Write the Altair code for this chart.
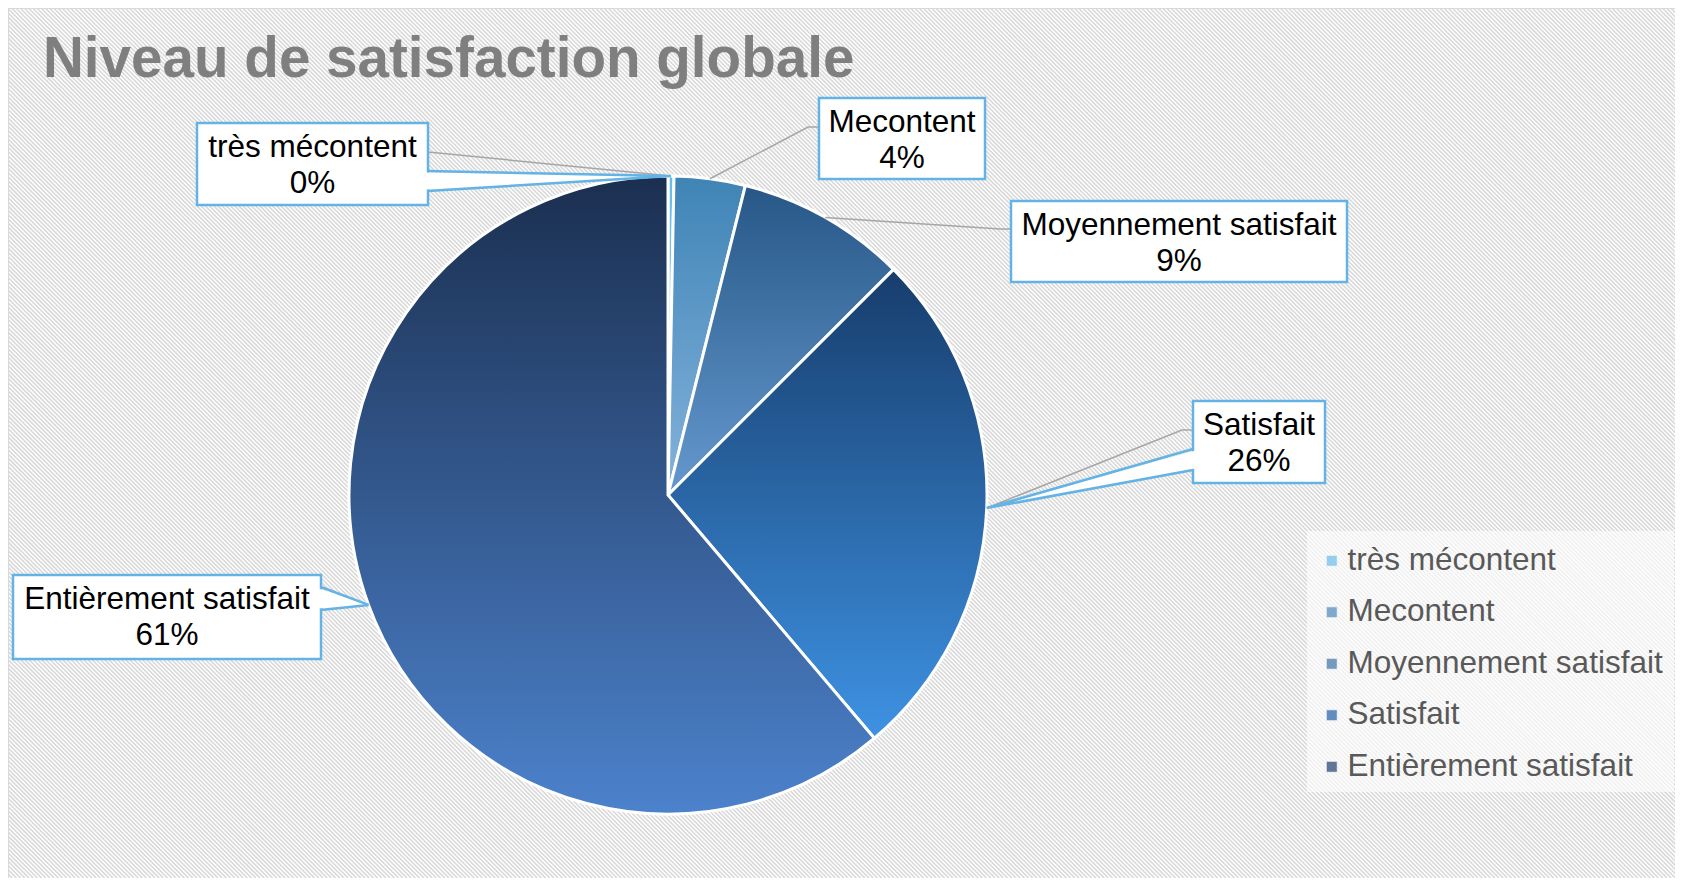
import math
import altair as alt
import pandas as pd

# ---------------- data ----------------
categories = ["très mécontent", "Mecontent", "Moyennement satisfait", "Satisfait", "Entièrement satisfait"]
values = [0.3, 3.6, 8.6, 26.3, 61.2]
title_text = "Niveau de satisfaction globale"

# ---------------- styles ----------------
slice_gradients = [
    ("#66bdea", "#93d2f3"),
    ("#3f84b6", "#84b3dc"),
    ("#275787", "#6599cf"),
    ("#173d6c", "#3e92e3"),
    ("#1b2f50", "#4c82cc"),
]
legend_colors = ["#6cbdea", "#4f88ba", "#3f72a8", "#2262a8", "#223f70"]
BOX_BLUE = "#63b3e6"
LEADER_GREY = "#a6a6a6"
FONT = "Liberation Sans"

# ---------------- layout (page pixels of the picture) ----------------
W, H = 1667, 870
OFF = 8
CX, CY, R = 668 - OFF, 495 - OFF, 319

# label boxes: x1, y1, x2, y2
boxes = {
    "très mécontent": (197, 123, 428, 205),
    "Mecontent": (819, 98, 985, 179),
    "Moyennement satisfait": (1011, 201, 1347, 282),
    "Satisfait": (1193, 401, 1325, 483),
    "Entièrement satisfait": (13, 575, 321, 659),
}
# callout wedges: base x, base y top, base y bottom, inward direction
wedges = {
    "très mécontent": (428, 171, 191, -1),
    "Satisfait": (1193, 449, 470, 1),
    "Entièrement satisfait": (321, 587, 610, -1),
}
# grey leader lines: points from box edge towards slice
leaders = {
    "très mécontent": [(428, 152)],
    "Mecontent": [(819, 127), (808, 127)],
    "Moyennement satisfait": [(1011, 229), (1000, 229)],
    "Satisfait": [(1193, 430), (1182, 430)],
}

# ---------------- pie table ----------------
pie = pd.DataFrame({"cat": categories, "value": values})
pie["end"] = pie["value"].cumsum()
pie["start"] = pie["end"] - pie["value"]
pie["mid"] = (pie["start"] + pie["end"]) / 2
pie["pct"] = [f"{round(v)}%" for v in values]
ang = pie["mid"] / 100 * 2 * math.pi
pie["ax"] = CX + R * ang.apply(math.sin)
pie["ay"] = CY - R * ang.apply(math.cos)
anchor = {r.cat: (r.ax, r.ay) for r in pie.itertuples()}

theta_scale = alt.Scale(domain=[0, 100], range=[0, 2 * math.pi])

layers = []

# hatched background
hatch = (
    alt.Chart(alt.sequence(-H, W + 5, 4.2, as_="c"))
    .transform_calculate(c2=f"datum.c + {H}")
    .mark_rule(color="#d9d9d9", strokeWidth=1.6, clip=True)
    .encode(x=alt.X("c:Q", scale=None), x2="c2:Q", y=alt.value(0), y2=alt.value(H))
)
layers.append(hatch)

# top / left border
border_df = pd.DataFrame({"x1": [0, 0], "x2": [W, 0], "y1": [0, 0], "y2": [0, H]})
layers.append(
    alt.Chart(border_df).mark_rule(color="#d9d9d9", strokeWidth=2)
    .encode(x=alt.X("x1:Q", scale=None), x2="x2:Q", y=alt.Y("y1:Q", scale=None), y2="y2:Q")
)

# title
layers.append(
    alt.Chart(pd.DataFrame({"t": [title_text]}))
    .mark_text(align="left", baseline="alphabetic", font=FONT, fontSize=56.6, fontWeight="bold", color="#7f7f7f")
    .encode(x=alt.value(43 - OFF), y=alt.value(77 - OFF), text="t:N")
)

# legend backdrop
layers.append(
    alt.Chart(pd.DataFrame({"a": [1]})).mark_rect(color="white", opacity=0.6)
    .encode(x=alt.value(1307 - OFF), x2=alt.value(1674 - OFF), y=alt.value(531 - OFF), y2=alt.value(792 - OFF))
)

# pie slices
for cat, (c0, c1) in zip(categories, slice_gradients):
    grad = alt.LinearGradient(
        gradient="linear",
        stops=[alt.GradientStop(color=c0, offset=0), alt.GradientStop(color=c1, offset=1)],
        x1=0, x2=0, y1=0, y2=1,
    )
    layers.append(
        alt.Chart(pie[pie["cat"] == cat])
        .mark_arc(radius=R, fill=grad, stroke="white", strokeWidth=3)
        .encode(
            theta=alt.Theta("start:Q", scale=theta_scale),
            theta2="end:Q",
            x=alt.value(CX),
            y=alt.value(CY),
        )
    )

# grey leader lines
rows = []
for cat, pts in leaders.items():
    seq = [(px - OFF, py - OFF) for px, py in pts] + [anchor[cat]]
    for i, (px, py) in enumerate(seq):
        rows.append({"cat": cat, "i": i, "x": px, "y": py})
lead_df = pd.DataFrame(rows)
layers.append(
    alt.Chart(lead_df).mark_line(color=LEADER_GREY, strokeWidth=1.5)
    .encode(x=alt.X("x:Q", scale=None), y=alt.Y("y:Q", scale=None), detail="cat:N", order="i:Q")
)

# label boxes
box_df = pd.DataFrame([
    {"cat": c, "x1": b[0] - OFF, "y1": b[1] - OFF, "x2": b[2] - OFF, "y2": b[3] - OFF}
    for c, b in boxes.items()
])
layers.append(
    alt.Chart(box_df).mark_rect(fill="white", stroke=BOX_BLUE, strokeWidth=2.5)
    .encode(x=alt.X("x1:Q", scale=None), x2="x2:Q", y=alt.Y("y1:Q", scale=None), y2="y2:Q")
)

# wedge fills (white) and outlines (blue)
fill_rows, edge_rows = [], []
for cat, (bx, ya, yb, d) in wedges.items():
    axp, ayp = anchor[cat]
    fill_rows.append({"cat": cat, "x": bx - OFF + 2.5 * d, "y": ya - OFF + 1.5, "y2": yb - OFF - 1.5})
    fill_rows.append({"cat": cat, "x": axp, "y": ayp, "y2": ayp})
    for i, (px, py) in enumerate([(bx - OFF, ya - OFF), (axp, ayp), (bx - OFF, yb - OFF)]):
        edge_rows.append({"cat": cat, "i": i, "x": px, "y": py})
layers.append(
    alt.Chart(pd.DataFrame(fill_rows)).mark_area(color="white", orient="vertical")
    .encode(x=alt.X("x:Q", scale=None), y=alt.Y("y:Q", scale=None), y2="y2:Q", detail="cat:N")
)
layers.append(
    alt.Chart(pd.DataFrame(edge_rows)).mark_line(color=BOX_BLUE, strokeWidth=2.5)
    .encode(x=alt.X("x:Q", scale=None), y=alt.Y("y:Q", scale=None), detail="cat:N", order="i:Q")
)

# label texts
txt_df = pd.DataFrame([
    {"cat": c, "pct": p, "tx": (b[0] + b[2]) / 2 - OFF, "ty1": b[1] + 34 - OFF, "ty2": b[1] + 70 - OFF}
    for c, p, b in zip(pie["cat"], pie["pct"], [boxes[c] for c in pie["cat"]])
])
for field, ycol in (("cat", "ty1"), ("pct", "ty2")):
    layers.append(
        alt.Chart(txt_df).mark_text(align="center", baseline="alphabetic", font=FONT, fontSize=31.5, color="black")
        .encode(x=alt.X("tx:Q", scale=None), y=alt.Y(f"{ycol}:Q", scale=None), text=f"{field}:N")
    )

# legend (symbols drawn by the legend itself)
layers.append(
    alt.Chart(pie).mark_square(size=10)
    .encode(
        x=alt.value(-100), y=alt.value(-100),
        color=alt.Color(
            "cat:N",
            scale=alt.Scale(domain=categories, range=legend_colors),
            legend=alt.Legend(
                orient="none", legendX=1316 - OFF, legendY=537,
                title=None, symbolType="square", symbolSize=121,
                symbolStrokeColor="white", symbolStrokeWidth=0.8,
                labelFont=FONT, labelFontSize=31.5, labelColor="#595959",
                rowPadding=18.5, labelOffset=0, padding=0, labelLimit=0,
            ),
        ),
    )
)

chart = (
    alt.layer(*layers)
    .properties(width=W, height=H, autosize="none", padding=0, background="white")
    .configure_view(stroke=None)
)

chart.save("out.html", embed_options={"renderer": "svg", "actions": False})
